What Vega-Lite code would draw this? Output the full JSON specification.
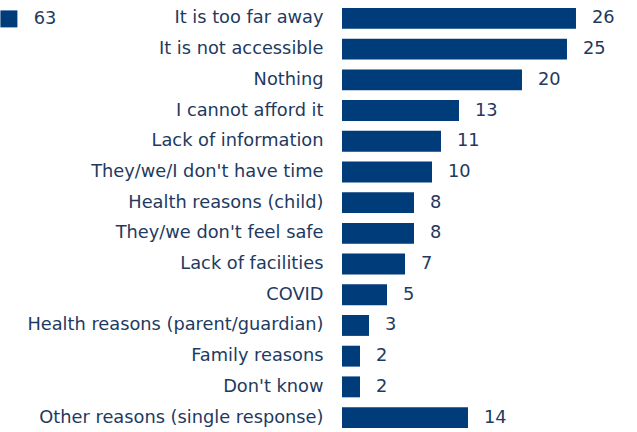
{
  "$schema": "https://vega.github.io/schema/vega-lite/v6.json",
  "autosize": {"type": "none"},
  "padding": {"left": 342, "top": 4, "right": 0, "bottom": 0},
  "width": 295,
  "height": 428,
  "background": "white",
  "config": {
    "view": {"stroke": null},
    "font": "DejaVu Sans"
  },
  "data": {
    "values": [
      {"reason": "It is too far away", "value": 26, "n": "63"},
      {"reason": "It is not accessible", "value": 25, "n": "63"},
      {"reason": "Nothing", "value": 20, "n": "63"},
      {"reason": "I cannot afford it", "value": 13, "n": "63"},
      {"reason": "Lack of information", "value": 11, "n": "63"},
      {"reason": "They/we/I don't have time", "value": 10, "n": "63"},
      {"reason": "Health reasons (child)", "value": 8, "n": "63"},
      {"reason": "They/we don't feel safe", "value": 8, "n": "63"},
      {"reason": "Lack of facilities", "value": 7, "n": "63"},
      {"reason": "COVID", "value": 5, "n": "63"},
      {"reason": "Health reasons (parent/guardian)", "value": 3, "n": "63"},
      {"reason": "Family reasons", "value": 2, "n": "63"},
      {"reason": "Don't know", "value": 2, "n": "63"},
      {"reason": "Other reasons (single response)", "value": 14, "n": "63"}
    ]
  },
  "encoding": {
    "y": {
      "field": "reason",
      "type": "nominal",
      "sort": null,
      "scale": {"paddingInner": 0.32, "paddingOuter": 0.13},
      "axis": {
        "title": null,
        "domain": false,
        "ticks": false,
        "grid": false,
        "labelPadding": 19,
        "labelFontSize": 17.8,
        "labelColor": "#1e3a5f",
        "labelFont": "DejaVu Sans",
        "labelLimit": 400
      }
    },
    "x": {
      "field": "value",
      "type": "quantitative",
      "scale": {"domain": [0, 32.78], "nice": false},
      "axis": null
    }
  },
  "layer": [
    {
      "mark": {"type": "bar"},
      "encoding": {
        "color": {
          "field": "n",
          "type": "nominal",
          "scale": {"range": ["#003b7a"]},
          "legend": {
            "title": null,
            "orient": "none",
            "legendX": -342,
            "legendY": 6,
            "symbolType": "square",
            "symbolSize": 289,
            "symbolStrokeWidth": 0,
            "labelFont": "DejaVu Sans",
            "labelFontSize": 17.8,
            "labelColor": "#1e3a5f",
            "labelOffset": 16,
            "padding": 0
          }
        }
      }
    },
    {
      "mark": {"type": "text", "align": "left", "baseline": "middle", "dx": 16, "fontSize": 17.8, "color": "#1e3a5f", "font": "DejaVu Sans"},
      "encoding": {
        "text": {"field": "value", "type": "quantitative"}
      }
    }
  ]
}
